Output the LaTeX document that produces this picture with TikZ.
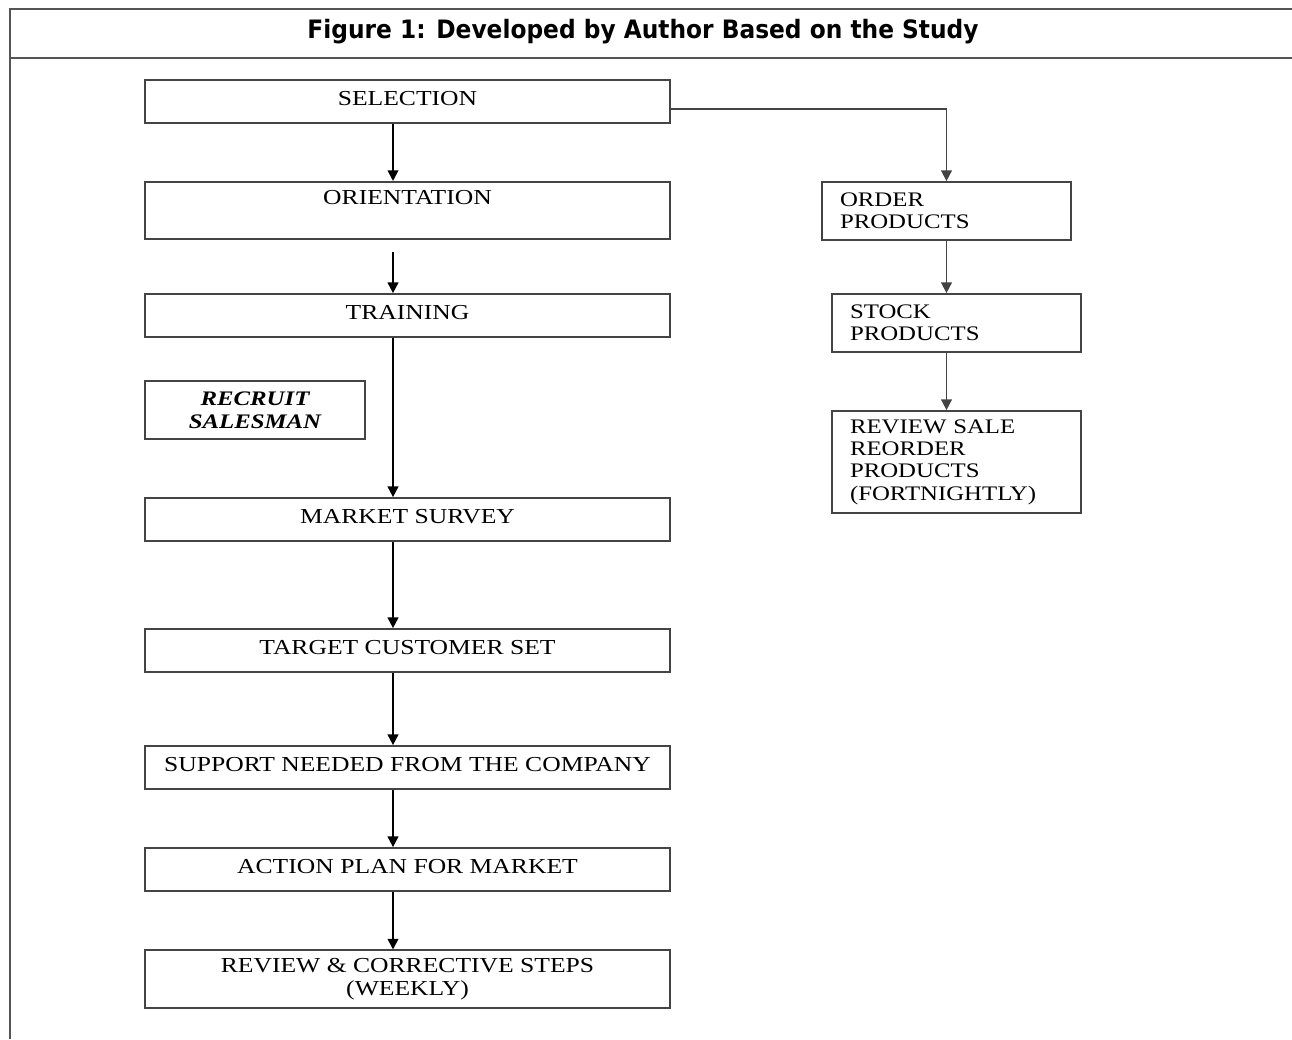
\documentclass[tikz,border=0pt]{standalone}
\usepackage{fontspec}
\setmainfont{Liberation Serif}[FakeStretch=1.2]
\newfontfamily\titlefont{DejaVu Sans}[FakeStretch=0.92]
\usetikzlibrary{arrows.meta,calc}
\definecolor{frame}{HTML}{555555}
\definecolor{boxline}{HTML}{444444}
\tikzset{
  box/.style={draw=boxline, line width=1.3pt, minimum width=393.75pt, minimum height=32.25pt,
    inner sep=0pt, align=center, font=\fontsize{16pt}{17pt}\selectfont, text depth=5pt},
  tallbox/.style={box, minimum height=43pt, text depth=},
  sidebox/.style={draw=boxline, line width=1.3pt, minimum width=186.75pt, minimum height=43.5pt,
    inner xsep=13.5pt, inner ysep=0pt, text width=159.75pt, align=left,
    font=\fontsize{15.5pt}{16.8pt}\selectfont},
  arr/.style={draw=black, line width=1.4pt, -{Triangle[length=8pt,width=8pt]}},
  sidearr/.style={draw=boxline, line width=1.2pt, -{Triangle[length=8pt,width=8pt]}},
  frameline/.style={draw=frame, line width=1.8pt}
}
\begin{document}
\begin{tikzpicture}[x=0.75pt, y=-0.75pt]
\useasboundingbox (0,0) rectangle (1292,1039);
% frame
\draw[frameline] (1292,9) -- (10,9) -- (10,1039);
\draw[frameline] (10,58) -- (1292,58);
\node[font=\titlefont\bfseries\fontsize{19pt}{21pt}\selectfont] (title) at (643,32) {Figure 1: Developed by Author Based on the Study};
% main column
\node[box] (sel) at (407.5,101.5) {SELECTION};
\node[tallbox] (ori) at (407.5,210.5) {ORIENTATION\\[2pt]\mbox{}};
\node[box] (tra) at (407.5,315.5) {TRAINING};
\node[tallbox, minimum width=165pt, font=\fontsize{15.5pt}{17pt}\selectfont\bfseries\itshape] (rec) at (255,410) {RECRUIT\\SALESMAN};
\node[box] (mkt) at (407.5,519.5) {MARKET SURVEY};
\node[box] (tgt) at (407.5,650.5) {TARGET CUSTOMER SET};
\node[box] (sup) at (407.5,767.5) {SUPPORT NEEDED FROM THE COMPANY};
\node[box] (act) at (407.5,869.5) {ACTION PLAN FOR MARKET};
\node[tallbox] (rev) at (407.5,979) {REVIEW \& CORRECTIVE STEPS\\(WEEKLY)};
% side column
\node[sidebox] (ord) at (946.5,211) {ORDER\\PRODUCTS};
\node[sidebox] (stk) at (956.5,323) {STOCK\\PRODUCTS};
\node[sidebox, minimum height=76.5pt] (rsl) at (956.5,462) {REVIEW SALE\\REORDER\\PRODUCTS\\(FORTNIGHTLY)};
% connectors
\coordinate (ax) at (393,0);
\draw[arr] (sel.south -| ax) -- (ori.north -| ax);
\draw[arr] ([yshift=-9pt]ori.south -| ax) -- (tra.north -| ax);
\draw[arr] (tra.south -| ax) -- (mkt.north -| ax);
\draw[arr] (mkt.south -| ax) -- (tgt.north -| ax);
\draw[arr] (tgt.south -| ax) -- (sup.north -| ax);
\draw[arr] (sup.south -| ax) -- (act.north -| ax);
\draw[arr] (act.south -| ax) -- (rev.north -| ax);
\draw[sidearr] ([yshift=-5.6pt]sel.east) -| (ord.north);
\draw[sidearr] (ord.south) -- (ord.south |- stk.north);
\draw[sidearr] (stk.south -| ord.south) -- (rsl.north -| ord.south);
\end{tikzpicture}
\end{document}
